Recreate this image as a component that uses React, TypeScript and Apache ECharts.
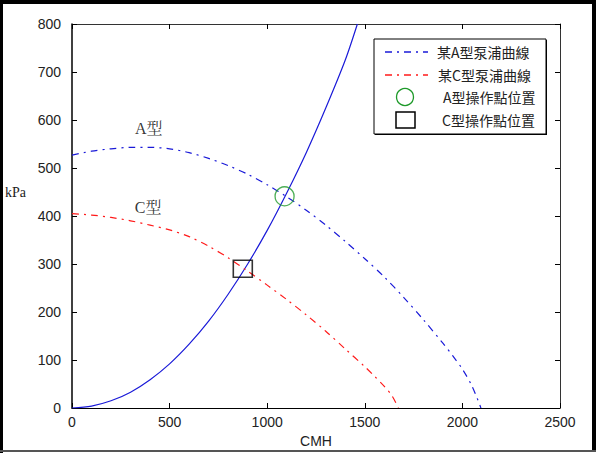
import React, { useEffect, useRef } from "react";
import * as echarts from "echarts";

// Pump A curve (blue dash-dot): flow (CMH) vs head (kPa)
const pumpAFlow = [0, 100, 200, 300, 400, 500, 600, 700, 800, 900, 1000, 1100, 1200, 1300, 1400, 1500, 1600, 1700, 1800, 1900, 1950, 2000, 2050, 2095];
const pumpAHead = [527, 535, 540, 543, 543, 540, 532, 520, 505, 487, 465, 440, 412, 381, 347, 311, 273, 230, 184, 135, 109, 81, 45, 0];

// Pump C curve (red dash-dot)
const pumpCFlow = [0, 100, 200, 300, 400, 500, 600, 700, 800, 900, 1000, 1100, 1200, 1300, 1400, 1500, 1550, 1600, 1640, 1672];
const pumpCHead = [405, 402, 397, 390, 381, 371, 357, 337, 313, 285, 256, 226, 194, 160, 123, 86, 66, 45, 25, 0];

// System curve (blue solid)
const systemFlow = [0, 100, 200, 300, 400, 500, 600, 700, 800, 900, 1000, 1100, 1200, 1300, 1400, 1462];
const systemHead = [0, 4, 15, 33, 59, 92, 133, 181, 237, 300, 370, 448, 532, 625, 725, 800];

// Operating points
const opPointA = [1089, 441];
const opPointC = [875, 290];

// Curve annotations
const curveLabelNames = ["A型", "C型"];
const curveLabelX = [393, 390];
const curveLabelY = [582, 418];

const legendNames = ["某A型泵浦曲線", "某C型泵浦曲線", "A型操作點位置", "C型操作點位置"];
const xAxisName = "CMH";
const yAxisName = "kPa";

const BLUE = "#1a1ad8";
const RED = "#ff1a1a";
const GREEN = "#1f9a2a";

const zip = (xs: number[], ys: number[]) => xs.map((x, i) => [x, ys[i]]);

export default function App() {
  const ref = useRef<HTMLDivElement>(null);
  useEffect(() => {
    if (!ref.current) return;
    const chart = echarts.init(ref.current, undefined, { renderer: "svg" });
    const tickFont = { color: "#222", fontSize: 14, fontFamily: "Liberation Sans, Arial, sans-serif", formatter: (v: number) => String(v) };
    const cjk = "Noto Sans CJK TC, sans-serif";
    const lx = 374, ly = 39, lw = 172, lh = 95;
    const rowY = [52, 75, 97, 120];
    chart.setOption({
      animation: false,
      backgroundColor: "#fff",
      grid: { left: 72, right: 42, top: 24, bottom: 44, containLabel: false },
      xAxis: [
        {
          type: "value", min: 0, max: 2500, interval: 500, position: "bottom",
          name: xAxisName, nameLocation: "middle", nameGap: 26,
          nameTextStyle: { color: "#222", fontSize: 14, fontFamily: "Liberation Sans, Arial, sans-serif" },
          axisLine: { show: true, onZero: false, lineStyle: { color: "#000", width: 1 } },
          axisTick: { show: true, inside: true, length: 5, lineStyle: { color: "#000" } },
          axisLabel: { ...tickFont, margin: 7 },
          splitLine: { show: false },
        },
        {
          type: "value", min: 0, max: 2500, interval: 500, position: "top",
          axisLine: { show: true, onZero: false, lineStyle: { color: "#333", width: 1 } },
          axisTick: { show: true, inside: true, length: 5, lineStyle: { color: "#000" } },
          axisLabel: { show: false },
          splitLine: { show: false },
        },
      ],
      yAxis: [
        {
          type: "value", min: 0, max: 800, interval: 100, position: "left",
          axisLine: { show: true, onZero: false, lineStyle: { color: "#000", width: 1.5 } },
          axisTick: { show: true, inside: true, length: 5, lineStyle: { color: "#000" } },
          axisLabel: { ...tickFont, margin: 11 },
          splitLine: { show: false },
        },
        {
          type: "value", min: 0, max: 800, interval: 100, position: "right",
          axisLine: { show: true, onZero: false, lineStyle: { color: "#333", width: 1 } },
          axisTick: { show: true, inside: true, length: 5, lineStyle: { color: "#000" } },
          axisLabel: { show: false },
          splitLine: { show: false },
        },
      ],
      series: [
        {
          name: "系統曲線", type: "line", data: zip(systemFlow, systemHead), smooth: 0.3,
          showSymbol: false, symbol: "none",
          lineStyle: { color: BLUE, width: 1.2 }, z: 2,
        },
        {
          name: legendNames[0], type: "line", data: zip(pumpAFlow, pumpAHead), smooth: 0.3,
          showSymbol: false, symbol: "none",
          lineStyle: { color: BLUE, width: 1.2, type: [7, 5, 2, 5] }, z: 3,
        },
        {
          name: legendNames[1], type: "line", data: zip(pumpCFlow, pumpCHead), smooth: 0.3,
          showSymbol: false, symbol: "none",
          lineStyle: { color: RED, width: 1.2, type: [7, 5, 2, 5] }, z: 3,
        },
        {
          name: legendNames[2], type: "scatter", data: [opPointA], symbol: "circle", symbolSize: 19,
          itemStyle: { color: "rgba(0,0,0,0)", borderColor: GREEN, borderWidth: 1.3 }, z: 4,
        },
        {
          name: legendNames[3], type: "scatter", data: [opPointC], symbol: "rect", symbolSize: [19, 17],
          itemStyle: { color: "rgba(0,0,0,0)", borderColor: "#000", borderWidth: 1.5 }, z: 4,
        },
        {
          name: "labels", type: "scatter", symbolSize: 1, silent: true,
          itemStyle: { color: "rgba(0,0,0,0)" },
          data: curveLabelNames.map((n, i) => ({ name: n, value: [curveLabelX[i], curveLabelY[i]] })),
          label: {
            show: true, position: "inside", formatter: (p: any) => p.name,
            color: "#000", fontSize: 16, fontFamily: "Liberation Serif, Noto Serif CJK TC, Noto Sans CJK TC, serif",
          },
        },
      ],
      graphic: [
        // outer frame
        { type: "rect", left: 0, top: 0, shape: { width: 3, height: 453 }, style: { fill: "#000" }, silent: true },
        { type: "rect", left: 0, top: 0, shape: { width: 596, height: 4 }, style: { fill: "#000" }, silent: true },
        { type: "rect", left: 592, top: 0, shape: { width: 4, height: 452 }, style: { fill: "#000" }, silent: true },
        { type: "rect", left: 0, top: 450, shape: { width: 596, height: 2 }, style: { fill: "#555" }, silent: true },
        // y axis name
        {
          type: "text", left: 5, top: 185,
          style: { text: yAxisName, fill: "#222", fontSize: 14, fontFamily: "Liberation Serif, serif" },
          silent: true,
        },
        // legend box
        {
          type: "group", silent: true, z: 10,
          children: [
            { type: "rect", shape: { x: lx + 1, y: ly + 1, width: lw, height: lh }, style: { fill: "#000" } },
            { type: "rect", shape: { x: lx, y: ly, width: lw, height: lh }, style: { fill: "#fff", stroke: "#000", lineWidth: 1 } },
            { type: "line", shape: { x1: 385, y1: rowY[0], x2: 428, y2: rowY[0] }, style: { stroke: BLUE, lineWidth: 1.3, lineDash: [7, 5, 2, 5] } },
            { type: "line", shape: { x1: 385, y1: rowY[1], x2: 428, y2: rowY[1] }, style: { stroke: RED, lineWidth: 1.3, lineDash: [7, 5, 2, 5] } },
            { type: "circle", shape: { cx: 405, cy: rowY[2], r: 8.5 }, style: { fill: "none", stroke: GREEN, lineWidth: 1.3 } },
            { type: "rect", shape: { x: 396, y: rowY[3] - 8, width: 19, height: 16 }, style: { fill: "none", stroke: "#000", lineWidth: 1.5 } },
            { type: "text", x: 437, y: rowY[0], style: { text: legendNames[0], fill: "#222", fontSize: 14, fontFamily: cjk, verticalAlign: "middle", align: "left" } },
            { type: "text", x: 438, y: rowY[1], style: { text: legendNames[1], fill: "#222", fontSize: 14, fontFamily: cjk, verticalAlign: "middle", align: "left" } },
            { type: "text", x: 443, y: rowY[2], style: { text: legendNames[2], fill: "#222", fontSize: 14, fontFamily: cjk, verticalAlign: "middle", align: "left" } },
            { type: "text", x: 442, y: rowY[3], style: { text: legendNames[3], fill: "#222", fontSize: 14, fontFamily: cjk, verticalAlign: "middle", align: "left" } },
          ],
        },
      ],
    });
    return () => chart.dispose();
  }, []);
  return (
    <div style={{ position: "absolute", left: 0, top: 0, width: 602, height: 453, background: "#fff" }}>
      <div ref={ref} style={{ width: 602, height: 453 }} />
    </div>
  );
}
